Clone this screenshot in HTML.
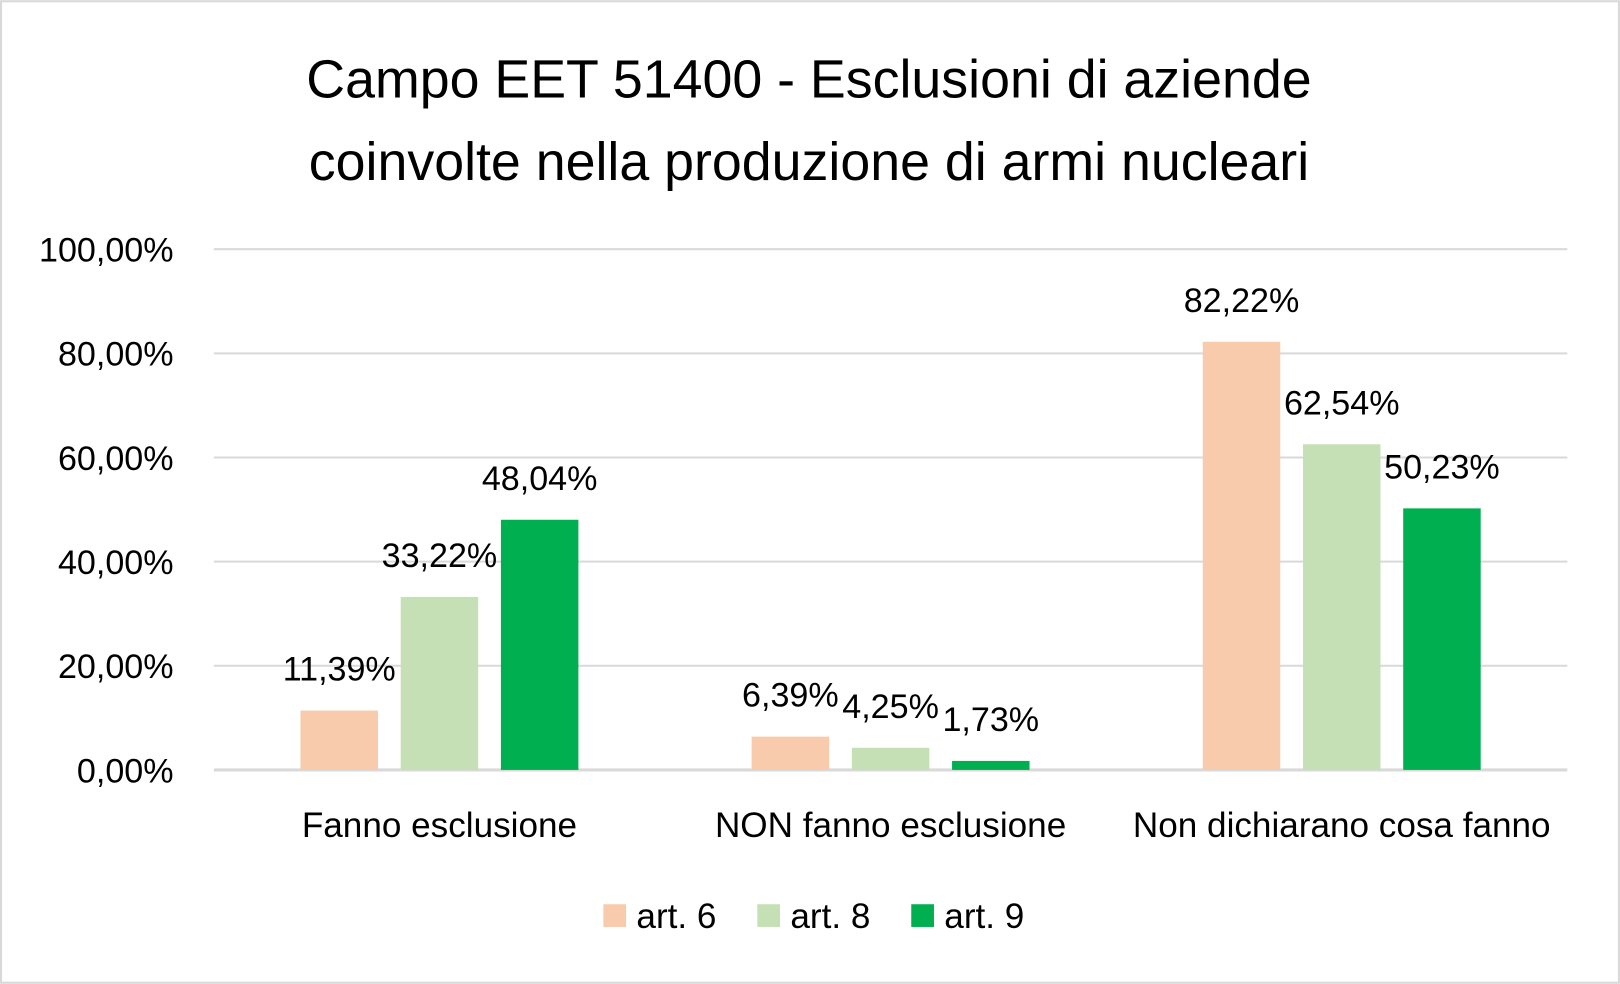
<!DOCTYPE html>
<html><head><meta charset="utf-8"><style>
html,body{margin:0;padding:0;background:#fff;}
svg{display:block;font-family:"Liberation Sans",sans-serif;}
</style></head><body>
<svg id="chart" width="1620" height="984" viewBox="0 0 1568 952" xmlns="http://www.w3.org/2000/svg">
<rect x="1" y="1" width="1566" height="950" fill="#fff" stroke="#d9d9d9" stroke-width="2"/>
<text x="783" text-anchor="middle" font-size="52" fill="#000"><tspan x="783" y="94">Campo EET 51400 - Esclusioni di aziende</tspan><tspan x="783" y="174">coinvolte nella produzione di armi nucleari</tspan></text>
<g id="grid"></g><g id="bars"></g><g id="labels"></g><g id="legend"></g>
</svg>
<script>
const categories = ["Fanno esclusione","NON fanno esclusione","Non dichiarano cosa fanno"];
const seriesNames = ["art. 6","art. 8","art. 9"];
const art6 = [11.39, 6.39, 82.22];
const art8 = [33.22, 4.25, 62.54];
const art9 = [48.04, 1.73, 50.23];
const yTicks = [0,20,40,60,80,100];
const colors = ["#f8cbad","#c5e0b4","#00b050"];
const series = [art6, art8, art9];
const NS="http://www.w3.org/2000/svg";
const x0=207, x1=1517, yBase=745, yTop=241, yMax=100;
const y = v => yBase - (v/yMax)*(yBase-yTop);
const catW=(x1-x0)/categories.length, barW=75, gap=22;
const fmt = v => v.toFixed(2).replace('.',',')+'%';
function mk(tag, attrs, parent){const e=document.createElementNS(NS,tag);for(const k in attrs)e.setAttribute(k,attrs[k]);parent.appendChild(e);return e;}
const grid=document.getElementById('grid');
yTicks.forEach(t=>{
  const l=mk('line',{x1:x0,x2:x1,y1:y(t),y2:y(t),stroke:'#d9d9d9','stroke-width':t===0?3:2},grid);
  
  
  const tx=mk('text',{x:168,y:y(t)+12,'text-anchor':'end','font-size':33,fill:'#000'},grid);
  tx.textContent=fmt(t);
  
  
});
const bars=document.getElementById('bars'), labels=document.getElementById('labels');
categories.forEach((c,i)=>{
  const cx=x0+catW*(i+0.5);
  const groupW=barW*3+gap*2;
  series.forEach((s,j)=>{
    const bx=cx-groupW/2+j*(barW+gap);
    const r=mk('rect',{x:bx,y:y(s[i]),width:barW,height:yBase-y(s[i]),fill:colors[j]},bars);
    
    
    const t=mk('text',{x:bx+barW/2,y:y(s[i])-29,'text-anchor':'middle','font-size':33,fill:'#000'},labels);
    t.textContent=fmt(s[i]);
    
    
  });
  const ct=mk('text',{x:cx,y:810,'text-anchor':'middle','font-size':34,fill:'#000'},labels);
  ct.textContent=c;
  
  
});
const legend=document.getElementById('legend');
const lx=[584,733,882];
seriesNames.forEach((n,j)=>{
  const g=mk('g',{},legend);
  
  
  mk('rect',{x:lx[j],y:875,width:22,height:22,fill:colors[j]},g);
  const t=mk('text',{x:lx[j]+32,y:898,'font-size':34,fill:'#000'},g);
  t.textContent=n;
});
</script>
</body></html>
